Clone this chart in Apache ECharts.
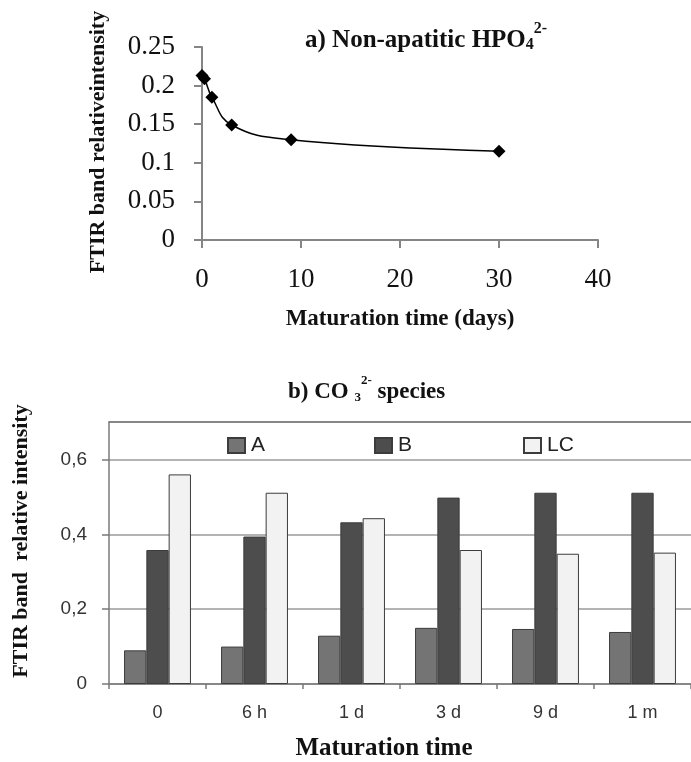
<!DOCTYPE html>
<html>
<head>
<meta charset="utf-8">
<script src="https://cdn.jsdelivr.net/npm/echarts@6/dist/echarts.min.js"></script>
<style>
html,body{margin:0;padding:0;background:#fff;overflow:hidden;}
#chart{width:691px;height:762px;}
</style>
</head>
<body>
<div id="chart"></div>
<script>
// ---- Panel a) data ----
var hpoDays = [0, 0.25, 1, 3, 9, 30];
var hpoValues = [0.213, 0.209, 0.185, 0.149, 0.130, 0.115];

// ---- Panel b) data ----
var co3Categories = ['0', '6 h', '1 d', '3 d', '9 d', '1 m'];
var co3A  = [0.090, 0.100, 0.129, 0.150, 0.147, 0.139];
var co3B  = [0.358, 0.394, 0.432, 0.498, 0.511, 0.511];
var co3LC = [0.560, 0.511, 0.443, 0.358, 0.348, 0.351];
var seriesNames = ['A', 'B', 'LC'];

var serif = "'Liberation Serif', 'Times New Roman', serif";
var sans = "'Liberation Sans', Arial, sans-serif";
var axisGray = '#858585';
var frameGray = '#7a7a7a';
var legendLefts = [227, 374, 523];

var chart = echarts.init(document.getElementById('chart'));
var option = {
  backgroundColor: '#ffffff',
  animation: false,
  title: [
    {
      left: 305, top: 21, padding: 0,
      text: '{m|a) Non-apatitic HPO}{sub|4}{sup|2-}',
      textStyle: {
        rich: {
          m: {fontFamily: serif, fontWeight: 'bold', fontSize: 25, lineHeight: 32, color: '#111', verticalAlign: 'bottom'},
          sub: {fontFamily: serif, fontWeight: 'bold', fontSize: 16, lineHeight: 14, color: '#111', verticalAlign: 'bottom'},
          sup: {fontFamily: serif, fontWeight: 'bold', fontSize: 16, lineHeight: 18, color: '#111', verticalAlign: 'top'}
        }
      }
    },
    {
      left: 288, top: 374, padding: 0,
      text: '{m|b) CO }{sub|3}{sup|2-}{m| species}',
      textStyle: {
        rich: {
          m: {fontFamily: serif, fontWeight: 'bold', fontSize: 23, lineHeight: 30, color: '#111', verticalAlign: 'bottom'},
          sub: {fontFamily: serif, fontWeight: 'bold', fontSize: 13, lineHeight: 12, color: '#111', verticalAlign: 'bottom'},
          sup: {fontFamily: serif, fontWeight: 'bold', fontSize: 13, lineHeight: 24, color: '#111', verticalAlign: 'top'}
        }
      }
    }
  ],
  graphic: [
    {type: 'text', x: 98, y: 142, rotation: Math.PI / 2,
     style: {text: 'FTIR band relativeintensity', font: 'bold 22px ' + serif, fill: '#111', align: 'center', verticalAlign: 'middle'}},
    {type: 'text', x: 400, y: 319,
     style: {text: 'Maturation time (days)', font: 'bold 23px ' + serif, fill: '#111', align: 'center', verticalAlign: 'middle'}},
    {type: 'text', x: 21, y: 541, rotation: Math.PI / 2,
     style: {text: 'FTIR band  relative intensity', font: 'bold 22px ' + serif, fill: '#111', align: 'center', verticalAlign: 'middle'}},
    {type: 'text', x: 384, y: 749,
     style: {text: 'Maturation time', font: 'bold 25px ' + serif, fill: '#111', align: 'center', verticalAlign: 'middle'}}
  ],
  legend: seriesNames.map(function (n, i) {
    return {
      left: legendLefts[i], top: 435, padding: 0,
      itemWidth: 17, itemHeight: 15, icon: 'rect',
      data: [n],
      textStyle: {fontFamily: sans, fontSize: 21, color: '#222', padding: [0, 0, 0, 1]}
    };
  }),
  grid: [
    {left: 202, top: 47, width: 396, height: 193, show: false},
    {left: 109, top: 422, width: 590, height: 262, show: false}
  ],
  xAxis: [
    {
      type: 'value', gridIndex: 0, min: 0, max: 40, interval: 10,
      axisLine: {show: true, onZero: false, lineStyle: {color: axisGray, width: 2}},
      axisTick: {show: true, inside: false, length: 8, lineStyle: {color: axisGray, width: 2}},
      axisLabel: {fontFamily: serif, fontSize: 27, color: '#111', margin: 26},
      splitLine: {show: false}
    },
    {
      type: 'category', gridIndex: 1, data: co3Categories, boundaryGap: true,
      axisLine: {show: true, lineStyle: {color: frameGray, width: 1.5}},
      axisTick: {show: true, length: 5, lineStyle: {color: frameGray, width: 1.5}},
      axisLabel: {fontFamily: sans, fontSize: 18, color: '#333', margin: 20},
      splitLine: {show: false}
    },
    {
      type: 'category', gridIndex: 1, data: co3Categories, position: 'top', boundaryGap: true,
      axisLine: {show: true, onZero: false, lineStyle: {color: frameGray, width: 1.5}},
      axisTick: {show: false}, axisLabel: {show: false}, splitLine: {show: false}
    }
  ],
  yAxis: [
    {
      type: 'value', gridIndex: 0, min: 0, max: 0.25, interval: 0.05,
      axisLine: {show: true, lineStyle: {color: axisGray, width: 2}},
      axisTick: {show: true, length: 8, lineStyle: {color: axisGray, width: 2}},
      axisLabel: {fontFamily: serif, fontSize: 27, color: '#111', margin: 27},
      splitLine: {show: false}
    },
    {
      type: 'value', gridIndex: 1, min: 0, max: 0.7, interval: 0.2,
      axisLine: {show: true, lineStyle: {color: frameGray, width: 1.5}},
      axisTick: {show: true, length: 7, lineStyle: {color: frameGray, width: 1.5}},
      axisLabel: {fontFamily: sans, fontSize: 19, color: '#333', margin: 22, showMaxLabel: false,
        formatter: function (v) { return String(+v.toFixed(2)).replace('.', ','); }},
      splitLine: {show: true, lineStyle: {color: '#9a9a9a', width: 1.5}}
    }
  ],
  series: [
    {
      type: 'line', xAxisIndex: 0, yAxisIndex: 0,
      data: hpoDays.map(function (d, i) { return [d, hpoValues[i]]; }),
      smooth: 0.45,
      symbol: 'diamond', symbolSize: 13,
      itemStyle: {color: '#000'},
      lineStyle: {color: '#000', width: 1.5}
    },
    {
      name: seriesNames[0], type: 'bar', xAxisIndex: 1, yAxisIndex: 1, data: co3A,
      barGap: '0%', barCategoryGap: '31%',
      itemStyle: {color: '#747474', borderColor: '#3c3c3c', borderWidth: 1}
    },
    {
      name: seriesNames[1], type: 'bar', xAxisIndex: 1, yAxisIndex: 1, data: co3B,
      barGap: '0%', barCategoryGap: '31%',
      itemStyle: {color: '#4d4d4d', borderColor: '#3c3c3c', borderWidth: 1}
    },
    {
      name: seriesNames[2], type: 'bar', xAxisIndex: 1, yAxisIndex: 1, data: co3LC,
      barGap: '0%', barCategoryGap: '31%',
      itemStyle: {color: '#f2f2f2', borderColor: '#3c3c3c', borderWidth: 1}
    }
  ]
};
chart.setOption(option);
</script>
</body>
</html>
